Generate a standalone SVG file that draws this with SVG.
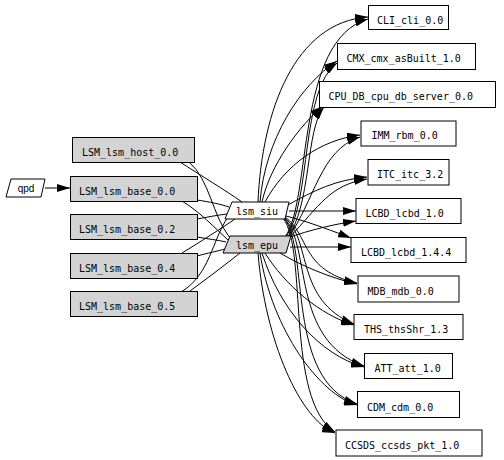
<svg xmlns="http://www.w3.org/2000/svg" width="504" height="460" viewBox="0 0 504 460">
<style>
.n{fill:#fff;stroke:#000;stroke-width:1}
.g{fill:#d3d3d3;stroke:#000;stroke-width:1}
.t{font-family:"DejaVu Sans Mono","Liberation Mono",monospace;font-size:10px;fill:#000}
.e{fill:none;stroke:#000;stroke-width:1}
.a{marker-end:url(#ah)}
</style>
<defs>
<marker id="ah" markerWidth="13" markerHeight="8" refX="13" refY="4" orient="auto" markerUnits="userSpaceOnUse"><path d="M0,0 L13,4 L0,8 z" fill="#000"/></marker>
</defs>
<rect width="504" height="460" fill="#fff"/>
<g id="connectors">
<path class="e a" d="M45,188 L70,188"/>
<path class="e" d="M180,162 C200,175 225,190 242,202"/>
<path class="e" d="M189,162 C210,180 212,215 230,238"/>
<path class="e" d="M197,200 C210,202 220,204 229,207"/>
<path class="e" d="M182,201 C200,212 215,228 228,240"/>
<path class="e" d="M197,219 C208,217 218,215 227,214"/>
<path class="e" d="M197,237 C208,239 218,240 226,242"/>
<path class="e" d="M182,253 C200,242 222,228 235,219"/>
<path class="e" d="M197,256 C208,253 218,251 225,249"/>
<path class="e" d="M181,292 C210,275 212,240 228,217"/>
<path class="e" d="M190,291 C205,280 225,265 240,253"/>
<path class="e a" d="M258,202 C262,110 295,22 368,17"/>
<path class="e a" d="M260,202 C265,140 300,85 337,61"/>
<path class="e a" d="M262,202 C270,165 300,125 323,106"/>
<path class="e a" d="M265,202 C285,165 320,140 360,135"/>
<path class="e a" d="M286,206 C315,190 335,180 367,177"/>
<path class="e a" d="M285,237 C312,200 295,40 368,19"/>
<path class="e a" d="M286,237 C312,200 300,90 337,63"/>
<path class="e a" d="M287,238 C312,205 305,130 324,107"/>
<path class="e a" d="M288,238 C315,200 320,150 360,137"/>
<path class="e a" d="M289,238 C320,205 330,185 367,179"/>
<path class="e a" d="M289,211 L356,211"/>
<path class="e a" d="M287,238 C310,230 335,224 356,221"/>
<path class="e a" d="M286,216 C310,222 335,232 351,238"/>
<path class="e a" d="M290,247 L351,247"/>
<path class="e a" d="M285,217 C310,235 300,270 357,283"/>
<path class="e a" d="M285,218 C312,240 295,300 354,324"/>
<path class="e a" d="M284,218 C312,245 290,340 364,366"/>
<path class="e a" d="M284,218 C310,250 285,380 357,404"/>
<path class="e a" d="M283,218 C308,250 285,400 335,432"/>
<path class="e a" d="M280,253 C300,265 330,278 357,284"/>
<path class="e a" d="M265,253 C285,285 320,315 354,325"/>
<path class="e a" d="M262,253 C280,310 320,355 364,367"/>
<path class="e a" d="M260,253 C272,330 320,395 357,405"/>
<path class="e a" d="M258,253 C265,340 300,420 335,433"/>
</g>
<g id="qpd"><polygon class="n" points="11,179 45,179 41,197 6,197"/><text x="26" y="192" text-anchor="middle" style="font-family:'Liberation Sans',Arial,sans-serif;font-size:10px">qpd</text></g>
<g id="LSM_lsm_host_0.0"><rect class="g" x="72.5" y="137.5" width="122" height="25"/><text class="t" x="82" y="156">LSM_lsm_host_0.0</text></g>
<g id="LSM_lsm_base_0.0"><rect class="g" x="70.5" y="176.5" width="127" height="25"/><text class="t" x="79" y="194.5">LSM_lsm_base_0.0</text></g>
<g id="LSM_lsm_base_0.2"><rect class="g" x="70.5" y="214.5" width="127" height="25"/><text class="t" x="79" y="232.5">LSM_lsm_base_0.2</text></g>
<g id="LSM_lsm_base_0.4"><rect class="g" x="70.5" y="253.5" width="127" height="25"/><text class="t" x="79" y="271.5">LSM_lsm_base_0.4</text></g>
<g id="LSM_lsm_base_0.5"><rect class="g" x="70.5" y="291.5" width="127" height="25"/><text class="t" x="79" y="309.5">LSM_lsm_base_0.5</text></g>
<g id="lsm_siu"><polygon class="n" points="232,202 289,202 285,219 225,219"/><text class="t" x="257" y="215" text-anchor="middle">lsm_siu</text></g>
<g id="lsm_epu"><polygon class="g" points="230,236 291,236 286,253 223,253"/><text class="t" x="257" y="249" text-anchor="middle">lsm_epu</text></g>
<g id="CLI_cli_0.0"><rect class="n" x="368.5" y="5.5" width="80" height="24"/><text class="t" x="377" y="23.5">CLI_cli_0.0</text></g>
<g id="CMX_cmx_asBuilt_1.0"><rect class="n" x="337.5" y="43.5" width="138" height="26"/><text class="t" x="346.5" y="62">CMX_cmx_asBuilt_1.0</text></g>
<g id="CPU_DB_cpu_db_server_0.0"><rect class="n" x="319.5" y="81.5" width="176" height="26"/><text class="t" x="328.5" y="100">CPU_DB_cpu_db_server_0.0</text></g>
<g id="IMM_rbm_0.0"><rect class="n" x="361" y="121" width="95" height="25"/><text class="t" x="371.5" y="139">IMM_rbm_0.0</text></g>
<g id="ITC_itc_3.2"><rect class="n" x="368" y="159.5" width="81" height="25.5"/><text class="t" x="377" y="178">ITC_itc_3.2</text></g>
<g id="LCBD_lcbd_1.0"><rect class="n" x="356" y="198.5" width="105" height="25"/><text class="t" x="365.5" y="217">LCBD_lcbd_1.0</text></g>
<g id="LCBD_lcbd_1.4.4"><rect class="n" x="351" y="237.5" width="115" height="25"/><text class="t" x="361" y="256">LCBD_lcbd_1.4.4</text></g>
<g id="MDB_mdb_0.0"><rect class="n" x="358" y="276" width="101" height="26"/><text class="t" x="367.5" y="295">MDB_mdb_0.0</text></g>
<g id="THS_thsShr_1.3"><rect class="n" x="354" y="314.5" width="109" height="25"/><text class="t" x="364" y="333">THS_thsShr_1.3</text></g>
<g id="ATT_att_1.0"><rect class="n" x="364.5" y="353.5" width="88" height="25"/><text class="t" x="374.5" y="372">ATT_att_1.0</text></g>
<g id="CDM_cdm_0.0"><rect class="n" x="357.5" y="391.5" width="102" height="26"/><text class="t" x="367" y="410.5">CDM_cdm_0.0</text></g>
<g id="CCSDS_ccsds_pkt_1.0"><rect class="n" x="336" y="430" width="146" height="26"/><text class="t" x="345" y="449">CCSDS_ccsds_pkt_1.0</text></g>
</svg>
